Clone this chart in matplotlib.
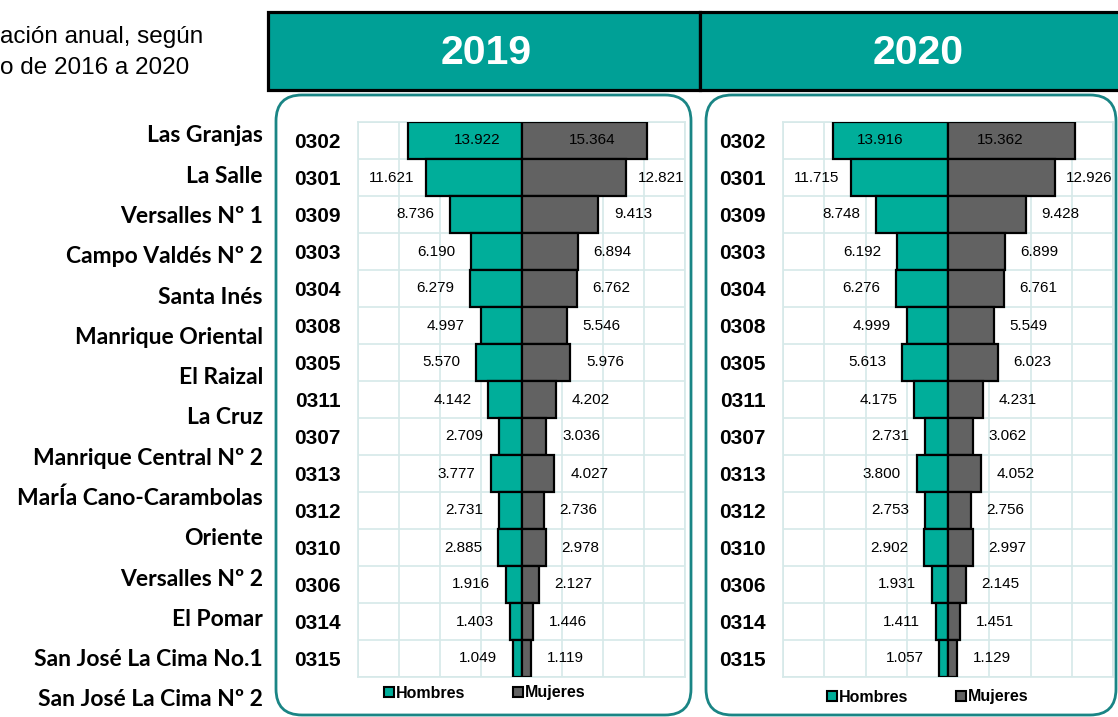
import numpy as np
import matplotlib
matplotlib.use('Agg')
import matplotlib.pyplot as plt
from matplotlib.patches import FancyBboxPatch, Rectangle, Patch

plt.rcParams['font.family'] = 'Liberation Sans'

# data
codigos = ['0302', '0301', '0309', '0303', '0304', '0308', '0305', '0311',
           '0307', '0313', '0312', '0310', '0306', '0314', '0315']
barrios = ['Las Granjas', 'La Salle', 'Versalles Nº 1', 'Campo Valdés Nº 2',
           'Santa Inés', 'Manrique Oriental', 'El Raizal', 'La Cruz',
           'Manrique Central Nº 2', 'MarÍa Cano-Carambolas', 'Oriente',
           'Versalles Nº 2', 'El Pomar', 'San José La Cima No.1',
           'San José La Cima Nº 2']
hombres_2019 = [13922, 11621, 8736, 6190, 6279, 4997, 5570, 4142, 2709, 3777, 2731, 2885, 1916, 1403, 1049]
mujeres_2019 = [15364, 12821, 9413, 6894, 6762, 5546, 5976, 4202, 3036, 4027, 2736, 2978, 2127, 1446, 1119]
hombres_2020 = [13916, 11715, 8748, 6192, 6276, 4999, 5613, 4175, 2731, 3800, 2753, 2902, 1931, 1411, 1057]
mujeres_2020 = [15362, 12926, 9428, 6899, 6761, 5549, 6023, 4231, 3062, 4052, 2756, 2997, 2145, 1451, 1129]
anios = ['2019', '2020']

teal = '#00AE9A'
gris = '#626262'
head = '#00A096'
borde = '#1A8585'
grid_c = '#D6E9E9'

W, H = 1118, 717
fig = plt.figure(figsize=(W / 100, H / 100), dpi=100)

# background axes in pixel units
bg = fig.add_axes([0, 0, 1, 1])
bg.set_xlim(0, W)
bg.set_ylim(H, 0)
bg.axis('off')

bg.text(0, 37, 'ación anual, según', fontsize=17.5, va='center', ha='left')
bg.text(0, 68, 'o de 2016 a 2020', fontsize=17.5, va='center', ha='left')

# year headers
for x0, x1 in [(268, 700), (700, 1130)]:
    bg.add_patch(Rectangle((x0, 12), x1 - x0, 78, facecolor=head,
                           edgecolor='black', lw=2.3))
bg.text(486, 53, anios[0], color='white', fontsize=29.5, fontweight='bold',
        ha='center', va='center')
bg.text(918, 53, anios[1], color='white', fontsize=29.5, fontweight='bold',
        ha='center', va='center')

# rounded panels
for x0, x1 in [(276, 691), (706, 1116)]:
    bg.add_patch(FancyBboxPatch((x0, 95), x1 - x0, 620,
                                boxstyle='round,pad=0,rounding_size=26',
                                facecolor='white', edgecolor=borde, lw=2))

# district names
for y, nombre in zip(np.linspace(136, 700, len(barrios)), barrios):
    bg.text(263, y, nombre, fontsize=16.5, fontweight='bold', family='Lato',
            ha='right', va='center')


def fmt(v):
    return f'{v:,}'.replace(',', '.')


def panel(x_left, x_right, hombres, mujeres, dentro, leg_xy):
    ax = fig.add_axes([x_left / W, 1 - 677 / H, (x_right - x_left) / W, (677 - 122) / H])
    y = np.arange(len(codigos))
    h = -np.array(hombres)
    m = np.array(mujeres)
    ax.barh(y, h, height=1, color=teal, edgecolor='black', lw=1.6, zorder=3)
    ax.barh(y, m, height=1, color=gris, edgecolor='black', lw=1.6, zorder=3)
    ax.set_xlim(-20000, 20000)
    ax.set_ylim(len(codigos) - 0.5, -0.5)
    ax.set_xticks(np.arange(-20000, 20001, 5000))
    ax.set_yticks(y)
    ax.set_yticklabels(codigos, fontsize=15, fontweight='bold')
    ax.set_yticks(np.arange(-0.5, len(codigos), 1), minor=True)
    ax.tick_params(axis='y', which='both', length=0, pad=12.5)
    ax.tick_params(axis='x', length=0, labelbottom=False)
    ax.grid(axis='x', which='major', color=grid_c, lw=1.2)
    ax.grid(axis='y', which='minor', color=grid_c, lw=1.2)
    ax.grid(axis='y', which='major', visible=False)
    ax.set_axisbelow(True)
    for s in ax.spines.values():
        s.set_color(grid_c)
        s.set_linewidth(1.2)

    for i in range(len(codigos)):
        if i == 0:
            ax.text(-hombres[i] * dentro[0], i, fmt(hombres[i]), fontsize=11,
                    ha='center', va='center', zorder=5)
            ax.text(mujeres[i] * dentro[1], i, fmt(mujeres[i]), fontsize=11,
                    ha='center', va='center', zorder=5)
        else:
            ax.annotate(fmt(hombres[i]), (-hombres[i], i), xytext=(-25, 0),
                        textcoords='offset points', fontsize=11,
                        ha='center', va='center')
            ax.annotate(fmt(mujeres[i]), (mujeres[i], i), xytext=(25, 0),
                        textcoords='offset points', fontsize=11,
                        ha='center', va='center')

    handles = [Patch(facecolor=teal, edgecolor='black', lw=1.5, label='Hombres'),
               Patch(facecolor=gris, edgecolor='black', lw=1.5, label='Mujeres')]
    ax.legend(handles=handles, loc='center', bbox_to_anchor=leg_xy,
              bbox_transform=bg.transData, ncol=2, frameon=False,
              handlelength=0.6, handleheight=0.6, handletextpad=0.15,
              columnspacing=3.0, prop={'weight': 'bold', 'size': 11.5})
    return ax


panel(358, 685, hombres_2019, mujeres_2019, (0.39, 0.56), (485, 693))
panel(783, 1113, hombres_2020, mujeres_2020, (0.59, 0.41), (928, 697))

fig.savefig('out.png', dpi=100)
